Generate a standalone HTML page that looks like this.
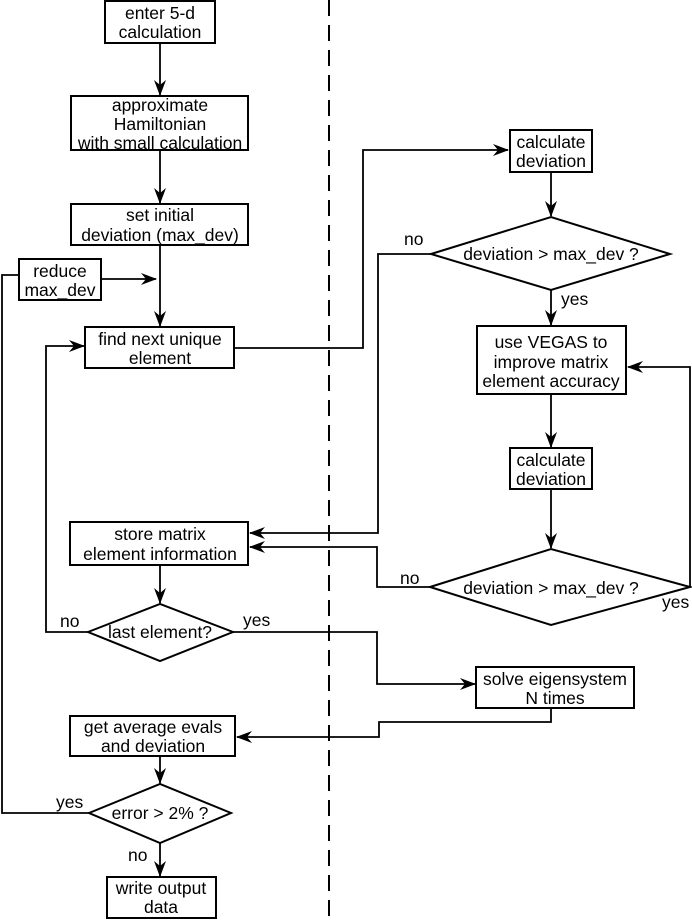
<!DOCTYPE html>
<html><head><style>body{margin:0;background:#fff}svg{display:block}text{font-family:"Liberation Sans",sans-serif;font-size:17.5px;fill:#000}</style></head>
<body>
<svg width="692" height="920" viewBox="0 0 692 920" xmlns="http://www.w3.org/2000/svg">
<defs><marker id="a" markerWidth="16" markerHeight="12" refX="15" refY="6" orient="auto" markerUnits="userSpaceOnUse"><path d="M0,0 L16,6 L0,12 L5,6 Z" fill="#000"/></marker></defs>
<line x1="329" y1="0" x2="329" y2="920" stroke="#000" stroke-width="2" stroke-dasharray="16,9"/>
<g fill="none" stroke="#000" stroke-width="2">
<rect x="105" y="1" width="110" height="42"/>
<rect x="71" y="96" width="177" height="54"/>
<rect x="71" y="204" width="177" height="41"/>
<rect x="19" y="259" width="82" height="41"/>
<rect x="85" y="327" width="149" height="41"/>
<rect x="510" y="130" width="82" height="42"/>
<rect x="477" y="326" width="149" height="68"/>
<rect x="510" y="448" width="82" height="41"/>
<rect x="70" y="522" width="178" height="43"/>
<rect x="476" y="667" width="158" height="41"/>
<rect x="70" y="716" width="165" height="40"/>
<rect x="107" y="877" width="109" height="41"/>
<polygon points="431,254 551,217 670,254 551,290"/>
<polygon points="430,587 551,549 690,587 551,625"/>
<polygon points="88,632 160,604 233,632 160,661"/>
<polygon points="89,813 160,784 231,813 160,843"/>
<g stroke-width="1.8">
<line x1="160" y1="43" x2="160" y2="95" marker-end="url(#a)"/>
<line x1="160" y1="150" x2="160" y2="203" marker-end="url(#a)"/>
<line x1="160" y1="245" x2="160" y2="326" marker-end="url(#a)"/>
<line x1="101" y1="279" x2="156" y2="279" marker-end="url(#a)"/>
<polyline points="19,275 2,275 2,813 89,813"/>
<polyline points="234,348 363,348 363,150 508,150" marker-end="url(#a)"/>
<line x1="551" y1="172" x2="551" y2="216" marker-end="url(#a)"/>
<line x1="551" y1="290" x2="551" y2="325" marker-end="url(#a)"/>
<line x1="551" y1="394" x2="551" y2="447" marker-end="url(#a)"/>
<line x1="551" y1="489" x2="551" y2="548" marker-end="url(#a)"/>
<polyline points="431,254 378,254 378,533 250,533" marker-end="url(#a)"/>
<polyline points="430,587 377,587 377,547 250,547" marker-end="url(#a)"/>
<polyline points="690,587 690,367 628,367" marker-end="url(#a)"/>
<line x1="160" y1="565" x2="160" y2="603" marker-end="url(#a)"/>
<polyline points="88,632 46,632 46,346 84,346" marker-end="url(#a)"/>
<polyline points="233,632 377,632 377,684 475,684" marker-end="url(#a)"/>
<polyline points="551,708 551,722 379,722 379,737 237,737" marker-end="url(#a)"/>
<line x1="160" y1="756" x2="160" y2="783" marker-end="url(#a)"/>
<line x1="160" y1="843" x2="160" y2="876" marker-end="url(#a)"/>
</g></g>
<g text-anchor="middle">
<text x="160" y="19">enter 5-d</text><text x="160" y="38">calculation</text>
<text x="160" y="111">approximate</text><text x="160" y="130">Hamiltonian</text><text x="160" y="149">with small calculation</text>
<text x="160" y="221">set initial</text><text x="160" y="241">deviation (max_dev)</text>
<text x="60" y="277">reduce</text><text x="60" y="296">max_dev</text>
<text x="160" y="345">find next unique</text><text x="160" y="364">element</text>
<text x="551" y="148">calculate</text><text x="551" y="167">deviation</text>
<text x="551" y="260">deviation &gt; max_dev ?</text>
<text x="551" y="348">use VEGAS to</text><text x="551" y="368">improve matrix</text><text x="551" y="387">element accuracy</text>
<text x="551" y="466">calculate</text><text x="551" y="485">deviation</text>
<text x="551" y="594">deviation &gt; max_dev ?</text>
<text x="160" y="540">store matrix</text><text x="160" y="560">element information</text>
<text x="160" y="638">last element?</text>
<text x="555" y="685">solve eigensystem</text><text x="555" y="704">N times</text>
<text x="153" y="733">get average evals</text><text x="153" y="752">and deviation</text>
<text x="160" y="819">error &gt; 2% ?</text>
<text x="161" y="894">write output</text><text x="161" y="913">data</text>
</g>
<text x="404" y="245">no</text>
<text x="561" y="305">yes</text>
<text x="400" y="584">no</text>
<text x="662" y="608">yes</text>
<text x="60" y="627">no</text>
<text x="243" y="626">yes</text>
<text x="56" y="808">yes</text>
<text x="128" y="861">no</text>
</svg>
</body></html>
